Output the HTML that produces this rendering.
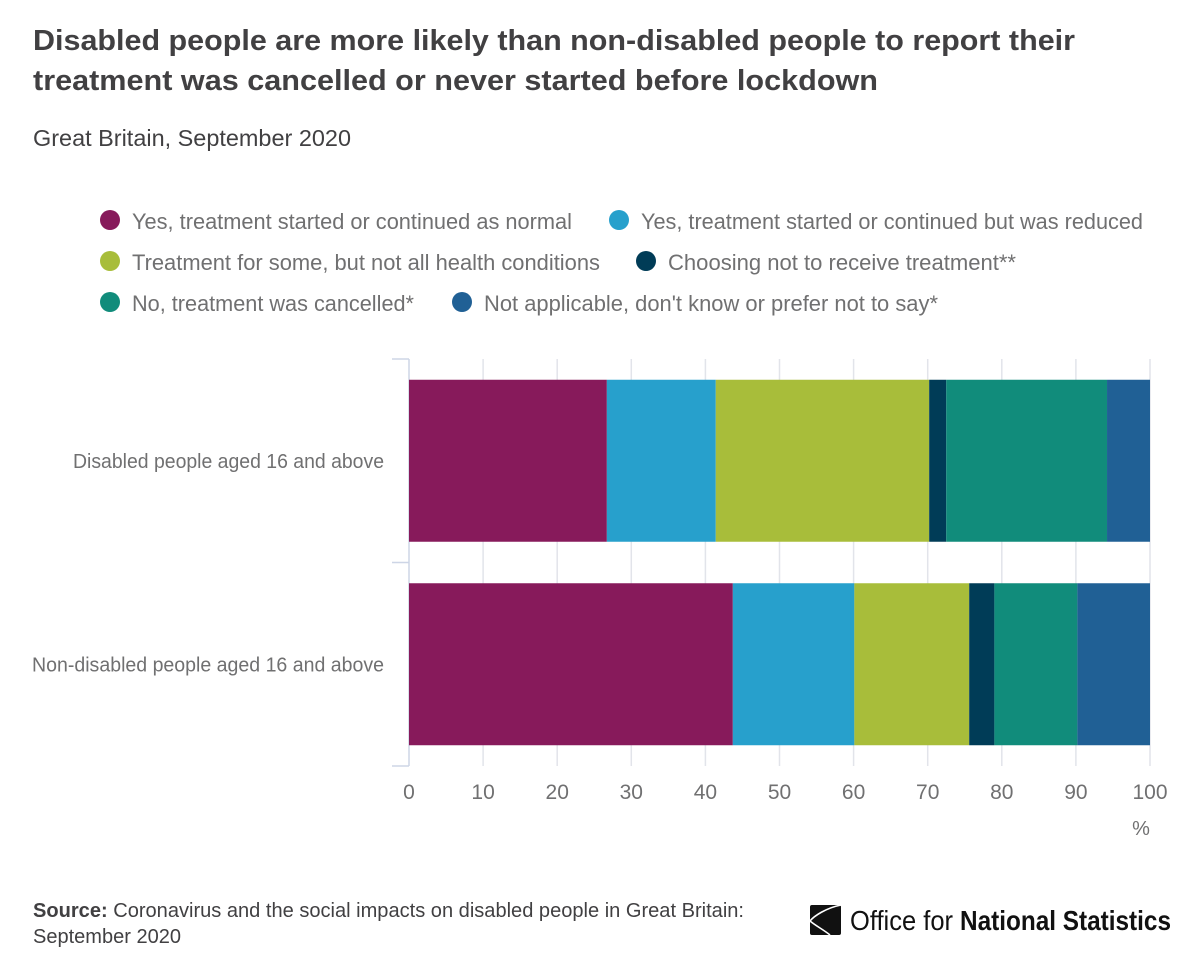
<!DOCTYPE html>
<html lang="en">
<head>
<meta charset="utf-8">
<title>Disabled people treatment chart</title>
<style>
html,body{margin:0;padding:0;background:#fff;}
svg{display:block;}
text{font-family:"Liberation Sans",sans-serif;}
</style>
</head>
<body>
<svg id="chart" width="1200" height="973" viewBox="0 0 1200 973" xmlns="http://www.w3.org/2000/svg">
  <rect x="0" y="0" width="1200" height="973" fill="#ffffff"/>
  <g fill="#414042" font-size="29" font-weight="700">
    <text x="33" y="50" textLength="1042" lengthAdjust="spacingAndGlyphs">Disabled people are more likely than non-disabled people to report their</text>
    <text x="33" y="90" textLength="845" lengthAdjust="spacingAndGlyphs">treatment was cancelled or never started before lockdown</text>
  </g>
  <text x="33" y="146" fill="#414042" font-size="23" textLength="318" lengthAdjust="spacingAndGlyphs">Great Britain, September 2020</text>
  <g id="legend"></g>
  <g id="grid"></g>
  <g id="bars"></g>
  <g id="axes"></g>
  <text x="1141" y="835" text-anchor="middle" fill="#707071" font-size="20">%</text>
  <g fill="#414042" font-size="20">
    <text x="33" y="917" textLength="711" lengthAdjust="spacingAndGlyphs"><tspan font-weight="700">Source:</tspan> Coronavirus and the social impacts on disabled people in Great Britain:</text>
    <text x="33" y="943" textLength="148" lengthAdjust="spacingAndGlyphs">September 2020</text>
  </g>
  <g>
    <rect x="810" y="905" width="31" height="30" rx="2" fill="#111111"/>
    <path d="M841 905 C826 908 814 916 810 921 C816 926 824 930 830 935" fill="none" stroke="#ffffff" stroke-width="1.6"/>
    <text x="850" y="930" fill="#111111" font-size="28" textLength="103" lengthAdjust="spacingAndGlyphs">Office for</text>
    <text x="960" y="930" fill="#111111" font-size="28" font-weight="700" textLength="211" lengthAdjust="spacingAndGlyphs">National Statistics</text>
  </g>
</svg>
<script>
const categories = ["Disabled people aged 16 and above", "Non-disabled people aged 16 and above"];
const seriesNames = ["Yes, treatment started or continued as normal", "Yes, treatment started or continued but was reduced", "Treatment for some, but not all health conditions", "Choosing not to receive treatment**", "No, treatment was cancelled*", "Not applicable, don't know or prefer not to say*"];
const seriesColors = ["#871a5b", "#27a0cc", "#a8bd3a", "#003c57", "#118c7b", "#206095"];
const disabledValues = [26.7, 14.7, 28.8, 2.3, 21.7, 5.8];
const nonDisabledValues = [43.7, 16.4, 15.5, 3.4, 11.2, 9.8];
const tickLabels = [0, 10, 20, 30, 40, 50, 60, 70, 80, 90, 100];

const NS = "http://www.w3.org/2000/svg";
const X0 = 409, X1 = 1150, PLOT_TOP = 359, PLOT_BOTTOM = 766;
const BAND = (PLOT_BOTTOM - PLOT_TOP) / categories.length;
const BAR_HEIGHT = 162;
function xScale(v) { return X0 + (v / 100) * (X1 - X0); }
function bandTop(i) { return PLOT_TOP + i * BAND; }
function barTop(i) { return bandTop(i) + (BAND - BAR_HEIGHT) / 2; }
function make(tag, attrs, parent) {
  const el = document.createElementNS(NS, tag);
  for (const k in attrs) el.setAttribute(k, attrs[k]);
  parent.appendChild(el);
  return el;
}
const grid = document.getElementById("grid");
const bars = document.getElementById("bars");
const axes = document.getElementById("axes");
const legend = document.getElementById("legend");

tickLabels.forEach(function (t) {
  const line = make("line", { x1: xScale(t), x2: xScale(t), y1: PLOT_TOP, y2: PLOT_BOTTOM, stroke: t === 0 ? "#cdd5e6" : "#e2e4ea", "stroke-width": 1.5 }, grid);
  
  
  const label = make("text", { x: xScale(t), y: 799, "text-anchor": "middle", fill: "#707071", "font-size": 21 }, axes);
  
  
  label.textContent = t;
});

[0, 1, 2].forEach(function (i) {
  const tick = make("line", { x1: 392, x2: X0, y1: bandTop(i), y2: bandTop(i), stroke: "#cdd5e6", "stroke-width": 1.5 }, axes);
  
  
});

const rows = [disabledValues, nonDisabledValues];
const labelLefts = [73, 32];
rows.forEach(function (values, r) {
  let cum = 0;
  values.forEach(function (v, s) {
    const rect = make("rect", { x: xScale(cum), y: barTop(r), width: xScale(cum + v) - xScale(cum), height: BAR_HEIGHT, fill: seriesColors[s] }, bars);
    
    
    cum += v;
  });
  const label = make("text", { x: labelLefts[r], y: bandTop(r) + BAND / 2 + 7, fill: "#707071", "font-size": 20, textLength: 384 - labelLefts[r], lengthAdjust: "spacingAndGlyphs" }, axes);
  
  
  label.textContent = categories[r];
});

const legendLayout = [
  { cx: 110, cy: 220, tx: 132, w: 440 },
  { cx: 619, cy: 220, tx: 641, w: 502 },
  { cx: 110, cy: 261, tx: 132, w: 468 },
  { cx: 646, cy: 261, tx: 668, w: 348 },
  { cx: 110, cy: 302, tx: 132, w: 282 },
  { cx: 462, cy: 302, tx: 484, w: 454 }
];
seriesNames.forEach(function (name, i) {
  const p = legendLayout[i];
  const g = make("g", {}, legend);
  
  
  const c = make("circle", { cx: p.cx, cy: p.cy, r: 10, fill: seriesColors[i] }, g);
  
  
  const t = make("text", { x: p.tx, y: p.cy + 9, fill: "#707071", "font-size": 22, textLength: p.w, lengthAdjust: "spacingAndGlyphs" }, g);
  
  
  t.textContent = name;
});
</script>
</body>
</html>
